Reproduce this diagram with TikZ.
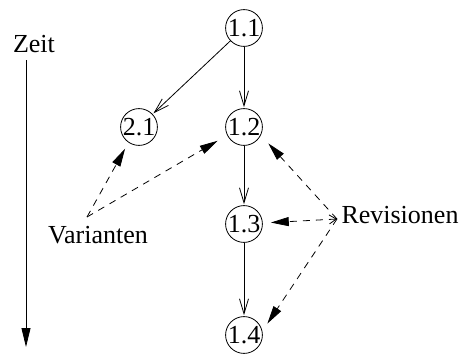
\documentclass[tikz,border=0pt]{standalone}
\usepackage{fontspec}
\setmainfont{Liberation Serif}
\usetikzlibrary{arrows.meta,shapes.geometric}
\begin{document}
\begin{tikzpicture}[x=1pt,y=-1pt,
  every node/.style={font=\fontsize{26}{31}\selectfont},
  version/.style={draw,circle,line width=0.8pt,minimum size=36.5pt,inner sep=0pt},
  flow/.style={line width=0.8pt,-{Straight Barb[length=15pt,width=9pt,line width=0.8pt]},shorten >=1pt},
  hint/.style={line width=0.8pt,dash pattern=on 7pt off 6pt,-{Triangle[length=18pt,width=9pt]}},
  label/.style={inner sep=0pt,anchor=base}]
\useasboundingbox (0,0) rectangle (461,356);
% version tree
\node[version] (n11) at (244,28) {1.1};
\node[version] (n21) at (139,127) {2.1};
\node[version] (n12) at (244,127) {1.2};
\node[version] (n13) at (244,224) {1.3};
\node[version] (n14) at (244,335) {1.4};
\draw[flow] (n11) -- (n21);
\draw[flow] (n11) -- (n12);
\draw[flow] (n12) -- (n13);
\draw[flow] (n13) -- (n14);
% time axis
\node[label] (zeit) at (34,52) {Zeit};
\coordinate (t0) at (26,60);
\coordinate (t1) at (26,347);
\draw[line width=0.8pt,-{Triangle[length=19pt,width=9pt]}] (t0) -- (t1);
% variants
\node[label] (var) at (98,243) {Varianten};
\coordinate (v) at (87,217);
\draw[hint,shorten >=7pt] (v) -- (n21.-124);
\draw[hint,shorten >=11pt] (v) -- (n12.-154);
% revisions
\node[label] (rev) at (400,223) {Revisionen};
\coordinate (r) at (337,219);
\draw[hint,shorten >=11pt] (r) -- (n12.-26);
\draw[hint,shorten >=8pt,{Straight Barb[length=7pt,width=9pt,line width=0.8pt]}-{Triangle[length=18pt,width=9pt]}] (r) -- (n13);
\draw[hint,shorten >=9pt] (r) -- (n14.12);
\end{tikzpicture}
\end{document}
